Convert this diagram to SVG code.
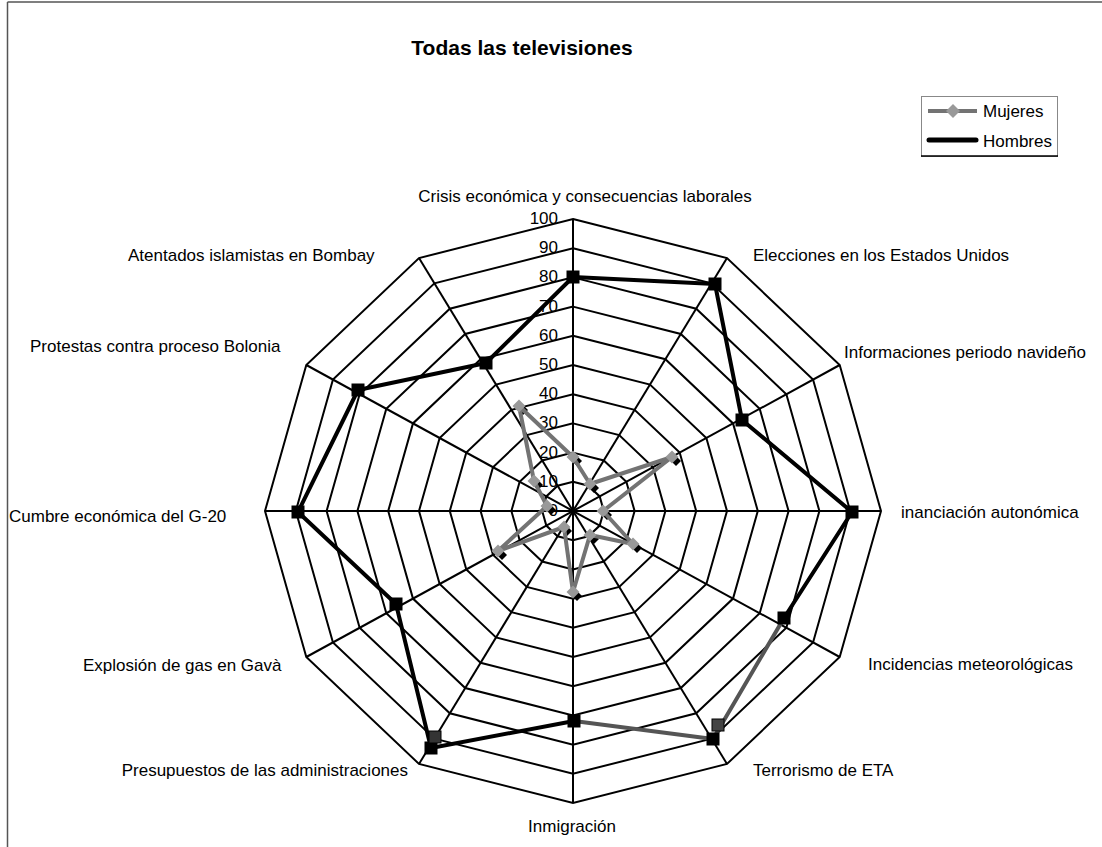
<svg xmlns="http://www.w3.org/2000/svg" width="1102" height="847" viewBox="0 0 1102 847">
<style>
.bg{fill:#fff}
.frame{stroke:#555;stroke-width:1.5;fill:none}
.grid{fill:none;stroke:#000;stroke-width:2;vector-effect:non-scaling-stroke}
.spoke{stroke:#000;stroke-width:2}
.lbl{font-family:"Liberation Sans",Arial,sans-serif;font-size:17px;fill:#000}
.num{font-family:"Liberation Sans",Arial,sans-serif;font-size:17px;fill:#000;text-anchor:end}
.title{font-family:"Liberation Sans",Arial,sans-serif;font-size:21px;font-weight:bold;fill:#000}
.hom{fill:none;stroke:#000;stroke-width:4;stroke-linejoin:round}
.homg{fill:none;stroke:#555;stroke-width:4;stroke-linejoin:round}
.muj{fill:none;stroke:#737373;stroke-width:4;stroke-linejoin:round}
.sq{fill:#000}
.dia{fill:#999}
.shadow{fill:#000}
</style>
<defs>
<rect id="sq" x="-6.5" y="-6.5" width="13" height="13" class="sq"/>
<polygon id="dm" points="0,-6.5 6.5,0 0,6.5 -6.5,0" class="dia"/>
<polygon id="dms" points="0,-5 5,0 0,5 -5,0" class="shadow"/>
</defs>
<rect class="bg" x="0" y="0" width="1102" height="847"/>
<g id="frame">
<line class="frame" x1="7.5" y1="2" x2="7.5" y2="847"/>
<line class="frame" x1="7.5" y1="2" x2="1102" y2="2"/>
</g>
<g id="title"><text class="title" x="522" y="55" text-anchor="middle">Todas las televisiones</text></g>
<g id="grid">
<polygon class="grid" transform="translate(573 511) scale(0.1)" points="0,-292 154,-252.9 266.7,-146 308,0 266.7,146 154,252.9 0,292 -154,252.9 -266.7,146 -308,0 -266.7,-146 -154,-252.9"/>
<polygon class="grid" transform="translate(573 511) scale(0.2)" points="0,-292 154,-252.9 266.7,-146 308,0 266.7,146 154,252.9 0,292 -154,252.9 -266.7,146 -308,0 -266.7,-146 -154,-252.9"/>
<polygon class="grid" transform="translate(573 511) scale(0.3)" points="0,-292 154,-252.9 266.7,-146 308,0 266.7,146 154,252.9 0,292 -154,252.9 -266.7,146 -308,0 -266.7,-146 -154,-252.9"/>
<polygon class="grid" transform="translate(573 511) scale(0.4)" points="0,-292 154,-252.9 266.7,-146 308,0 266.7,146 154,252.9 0,292 -154,252.9 -266.7,146 -308,0 -266.7,-146 -154,-252.9"/>
<polygon class="grid" transform="translate(573 511) scale(0.5)" points="0,-292 154,-252.9 266.7,-146 308,0 266.7,146 154,252.9 0,292 -154,252.9 -266.7,146 -308,0 -266.7,-146 -154,-252.9"/>
<polygon class="grid" transform="translate(573 511) scale(0.6)" points="0,-292 154,-252.9 266.7,-146 308,0 266.7,146 154,252.9 0,292 -154,252.9 -266.7,146 -308,0 -266.7,-146 -154,-252.9"/>
<polygon class="grid" transform="translate(573 511) scale(0.7)" points="0,-292 154,-252.9 266.7,-146 308,0 266.7,146 154,252.9 0,292 -154,252.9 -266.7,146 -308,0 -266.7,-146 -154,-252.9"/>
<polygon class="grid" transform="translate(573 511) scale(0.8)" points="0,-292 154,-252.9 266.7,-146 308,0 266.7,146 154,252.9 0,292 -154,252.9 -266.7,146 -308,0 -266.7,-146 -154,-252.9"/>
<polygon class="grid" transform="translate(573 511) scale(0.9)" points="0,-292 154,-252.9 266.7,-146 308,0 266.7,146 154,252.9 0,292 -154,252.9 -266.7,146 -308,0 -266.7,-146 -154,-252.9"/>
<polygon class="grid" transform="translate(573 511)" points="0,-292 154,-252.9 266.7,-146 308,0 266.7,146 154,252.9 0,292 -154,252.9 -266.7,146 -308,0 -266.7,-146 -154,-252.9"/>
<line class="spoke" x1="573" y1="219" x2="573" y2="803"/>
<line class="spoke" x1="727" y1="258.1" x2="419" y2="763.9"/>
<line class="spoke" x1="839.7" y1="365" x2="306.3" y2="657"/>
<line class="spoke" x1="881" y1="511" x2="265" y2="511"/>
<line class="spoke" x1="839.7" y1="657" x2="306.3" y2="365"/>
<line class="spoke" x1="727" y1="763.9" x2="419" y2="258.1"/>
</g>
<g id="axis-values">
<text class="num" x="558" y="516">0</text>
<text class="num" x="558" y="486.8">10</text>
<text class="num" x="558" y="457.6">20</text>
<text class="num" x="558" y="428.4">30</text>
<text class="num" x="558" y="399.2">40</text>
<text class="num" x="558" y="370">50</text>
<text class="num" x="558" y="340.8">60</text>
<text class="num" x="558" y="311.6">70</text>
<text class="num" x="558" y="282.4">80</text>
<text class="num" x="558" y="253.2">90</text>
<text class="num" x="558" y="224">100</text>
</g>
<g id="category-labels">
<text class="lbl" x="585" y="202" text-anchor="middle">Crisis económica y consecuencias laborales</text>
<text class="lbl" x="753" y="261">Elecciones en los Estados Unidos</text>
<text class="lbl" x="844" y="358">Informaciones periodo navideño</text>
<text class="lbl" x="901" y="518">inanciación autonómica</text>
<text class="lbl" x="868" y="670">Incidencias meteorológicas</text>
<text class="lbl" x="753" y="776">Terrorismo de ETA</text>
<text class="lbl" x="572" y="832" text-anchor="middle">Inmigración</text>
<text class="lbl" x="408" y="776" text-anchor="end">Presupuestos de las administraciones</text>
<text class="lbl" x="83" y="671">Explosión de gas en Gavà</text>
<text class="lbl" x="9" y="522">Cumbre económica del G-20</text>
<text class="lbl" x="30" y="352">Protestas contra proceso Bolonia</text>
<text class="lbl" x="128" y="261">Atentados islamistas en Bombay</text>
</g>
<g id="series-hombres">
<polyline class="hom" points="784,618 852,512 742,420 715,284 573,277 486,363 358,390 298,512 396,604 431,748 574,721"/>
<polyline class="homg" points="784,618 713,739 574,721"/>
<use href="#sq" x="573" y="277"/>
<use href="#sq" x="715" y="284"/>
<use href="#sq" x="742" y="420"/>
<use href="#sq" x="852" y="512"/>
<use href="#sq" x="784" y="618"/>
<use href="#sq" x="713" y="739"/>
<rect x="712" y="719" width="12" height="12" fill="#444" stroke="#000" stroke-width="1"/>
<use href="#sq" x="574" y="721"/>
<use href="#sq" x="431" y="748"/>
<rect x="429" y="731" width="12" height="12" fill="#333" stroke="#000" stroke-width="1"/>
<use href="#sq" x="396" y="604"/>
<use href="#sq" x="298" y="512"/>
<use href="#sq" x="358" y="390"/>
<use href="#sq" x="486" y="363"/>
</g>
<g id="series-mujeres">
<use href="#dms" x="577" y="461"/>
<use href="#dms" x="594" y="488"/>
<use href="#dms" x="676" y="461"/>
<use href="#dms" x="607" y="515"/>
<use href="#dms" x="637" y="548"/>
<use href="#dms" x="594" y="539"/>
<use href="#dms" x="577" y="596"/>
<use href="#dms" x="567" y="531"/>
<use href="#dms" x="502" y="555"/>
<use href="#dms" x="551" y="510"/>
<use href="#dms" x="538" y="485"/>
<use href="#dms" x="523" y="410"/>
<polygon class="muj" points="573,457 590,484 672,457 603,511 633,544 590,535 573,592 564,527 498,551 547,506 534,481 519,406"/>
<use href="#dm" x="573" y="457"/>
<use href="#dm" x="590" y="484"/>
<use href="#dm" x="672" y="457"/>
<use href="#dm" x="603" y="511"/>
<use href="#dm" x="633" y="544"/>
<use href="#dm" x="590" y="535"/>
<use href="#dm" x="573" y="592"/>
<use href="#dm" x="564" y="527"/>
<use href="#dm" x="498" y="551"/>
<use href="#dm" x="547" y="506"/>
<use href="#dm" x="534" y="481"/>
<use href="#dm" x="519" y="406"/>
</g>
<g id="legend">
<rect x="921.5" y="96.5" width="136" height="60" fill="#fff" stroke="#888" stroke-width="1"/>
<line x1="921" y1="156" x2="1058" y2="156" stroke="#000" stroke-width="1.5"/>
<line x1="928" y1="111" x2="977" y2="111" stroke="#737373" stroke-width="4"/>
<polygon points="953,104 960,111 953,118 946,111" fill="#999"/>
<text class="lbl" x="983" y="117" font-size="16.5">Mujeres</text>
<line x1="929" y1="140" x2="976" y2="140" stroke="#000" stroke-width="5" stroke-linecap="round"/>
<text class="lbl" x="983" y="147" font-size="16.5">Hombres</text>
</g>
</svg>
